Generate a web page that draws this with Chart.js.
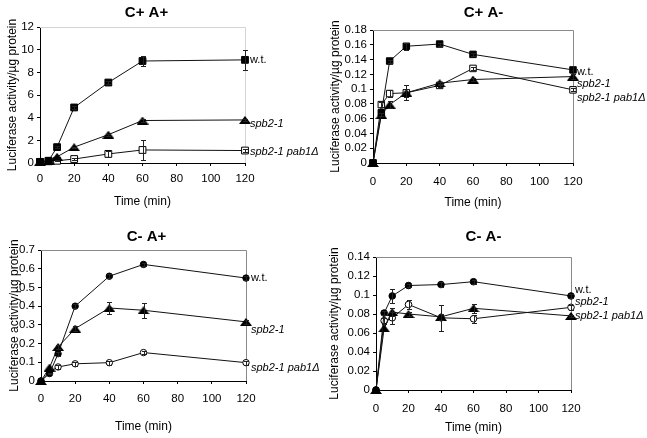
<!DOCTYPE html>
<html>
<head>
<meta charset="utf-8">
<script src="https://cdn.jsdelivr.net/npm/chart.js@4.4.0/dist/chart.umd.min.js"></script>
<style>
html, body { margin: 0; padding: 0; background: #fff; overflow: hidden; }
body { width: 647px; height: 438px; position: relative; }
canvas { position: absolute; }
</style>
</head>
<body>
<canvas id="pA" width="347" height="215" style="left:-27px;top:0px"></canvas>
<canvas id="pB" width="327" height="215" style="left:320px;top:0px"></canvas>
<canvas id="pC" width="347" height="223" style="left:-27px;top:215px"></canvas>
<canvas id="pD" width="327" height="223" style="left:320px;top:215px"></canvas>
<script>
const times = [0, 5, 10, 20, 40, 60, 120];
const xTicks = [0, 20, 40, 60, 80, 100, 120];
const seriesNames = ['w.t.', 'spb2-1', 'spb2-1 pab1Δ'];

// C+ A+
const aTitle = 'C+ A+';
const aTicks = [0, 2, 4, 6, 8, 10, 12];
const aWt = [0.1, 0.2, 1.4, 4.9, 7.1, 9.0, 9.1];
const aWtErr = [0, 0, 0.1, 0.1, 0.1, 0.45, 0.9];
const aSpb = [0.1, 0.2, 0.55, 1.4, 2.5, 3.75, 3.8];
const aSpbErr = [0, 0, 0, 0.05, 0.1, 0.1, 0.1];
const aPab = [0.1, 0.15, 0.2, 0.35, 0.8, 1.15, 1.1];
const aPabErr = [0, 0, 0.05, 0.05, 0.3, 0.85, 0.1];

// C+ A-
const bTitle = 'C+ A-';
const bTicks = [0, 0.02, 0.04, 0.06, 0.08, 0.1, 0.12, 0.14, 0.16, 0.18];
const bWt = [0, 0.068, 0.138, 0.158, 0.161, 0.147, 0.126];
const bWtErr = [0, 0, 0.002, 0.005, 0.002, 0.002, 0.005];
const bSpb = [0, 0.065, 0.079, 0.095, 0.108, 0.113, 0.117];
const bSpbErr = [0, 0.002, 0.005, 0.01, 0.002, 0.002, 0.003];
const bPab = [0, 0.079, 0.094, 0.095, 0.105, 0.128, 0.099];
const bPabErr = [0, 0.003, 0.005, 0.005, 0.002, 0.002, 0.002];

// C- A+
const cTitle = 'C- A+';
const cTicks = [0, 0.1, 0.2, 0.3, 0.4, 0.5, 0.6, 0.7];
const cWt = [0, 0.04, 0.146, 0.40, 0.56, 0.623, 0.55];
const cWtErr = [0, 0.005, 0.01, 0.01, 0.01, 0.01, 0.01];
const cSpb = [0, 0.072, 0.182, 0.28, 0.39, 0.378, 0.316];
const cSpbErr = [0, 0, 0.01, 0.015, 0.03, 0.04, 0.01];
const cPab = [0, 0.05, 0.075, 0.092, 0.098, 0.152, 0.098];
const cPabErr = [0, 0, 0.01, 0.01, 0.01, 0.01, 0.01];

// C- A-
const dTitle = 'C- A-';
const dTicks = [0, 0.02, 0.04, 0.06, 0.08, 0.1, 0.12, 0.14];
const dWt = [0, 0.081, 0.099, 0.11, 0.111, 0.114, 0.099];
const dWtErr = [0, 0.002, 0.007, 0.002, 0.003, 0.002, 0.002];
const dSpb = [0, 0.065, 0.082, 0.080, 0.077, 0.086, 0.078];
const dSpbErr = [0, 0, 0.004, 0.002, 0.003, 0.005, 0.001];
const dPab = [0, 0.073, 0.076, 0.090, 0.076, 0.075, 0.087];
const dPabErr = [0, 0.003, 0.006, 0.005, 0.014, 0.004, 0.003];

Chart.defaults.font.family = "'Liberation Sans', Arial, sans-serif";
Chart.defaults.color = '#000';

// flat triangle marker like the Excel one
function triMarker(w, h) {
  const c = document.createElement('canvas');
  c.width = w; c.height = h;
  const g = c.getContext('2d');
  g.fillStyle = '#000';
  g.beginPath();
  g.moveTo(0, h);
  g.lineTo(w / 2, 0);
  g.lineTo(w, h);
  g.closePath();
  g.fill();
  return c;
}
const tri = triMarker(12, 8);

const frame = {
  id: 'frame',
  beforeDatasetsDraw(chart, args, opts) {
    const {ctx, chartArea: a} = chart;
    ctx.save();
    ctx.strokeStyle = opts.color;
    ctx.lineWidth = 1;
    ctx.beginPath();
    ctx.moveTo(Math.round(a.left), Math.round(a.top) + 0.5);
    ctx.lineTo(Math.round(a.right) + 0.5, Math.round(a.top) + 0.5);
    ctx.lineTo(Math.round(a.right) + 0.5, Math.round(a.bottom));
    ctx.stroke();
    ctx.restore();
  }
};

const errorBars = {
  id: 'errorBars',
  afterDatasetsDraw(chart) {
    const {ctx, scales: {x, y}} = chart;
    ctx.save();
    ctx.strokeStyle = '#222';
    ctx.lineWidth = 1;
    chart.data.datasets.forEach(ds => {
      (ds.err || []).forEach((e, i) => {
        if (!e) return;
        const p = ds.data[i];
        const px = Math.round(x.getPixelForValue(p.x)) + 0.5;
        const top = Math.round(y.getPixelForValue(p.y + e)) + 0.5;
        const bot = Math.round(y.getPixelForValue(p.y - e)) + 0.5;
        ctx.beginPath();
        ctx.moveTo(px, top); ctx.lineTo(px, bot);
        ctx.moveTo(px - 2.5, top); ctx.lineTo(px + 2.5, top);
        ctx.moveTo(px - 2.5, bot); ctx.lineTo(px + 2.5, bot);
        ctx.stroke();
      });
    });
    ctx.restore();
  }
};

const endLabels = {
  id: 'endLabels',
  afterDraw(chart, args, opts) {
    const {ctx, scales: {x, y}} = chart;
    ctx.save();
    ctx.fillStyle = '#000';
    ctx.textBaseline = 'middle';
    ctx.textAlign = 'left';
    chart.data.datasets.forEach((ds, i) => {
      const last = ds.data[ds.data.length - 1];
      const px = x.getPixelForValue(last.x) + opts.dx;
      const py = y.getPixelForValue(last.y) + opts.dy[i];
      ctx.font = (i === 0 ? '' : 'italic ') + "11px 'Liberation Sans', Arial, sans-serif";
      ctx.fillText(ds.label, px, py);
    });
    ctx.restore();
  }
};

function points(vals) {
  return vals.map((v, i) => ({x: times[i], y: v}));
}

function series(label, vals, err, style, fill, radius) {
  return {
    label: label,
    data: points(vals),
    err: err,
    borderColor: '#111',
    borderWidth: 1,
    pointStyle: style,
    pointRadius: radius,
    pointBackgroundColor: fill,
    pointBorderColor: '#000',
    pointBorderWidth: 1,
    tension: 0,
    clip: false,
    yAxisID: 'y'
  };
}

function panel(id, title, yTicks, datasets, geo) {
  const yMax = yTicks[yTicks.length - 1];
  return new Chart(document.getElementById(id), {
    type: 'line',
    data: {datasets: datasets},
    options: {
      responsive: false,
      animation: false,
      events: [],
      layout: {padding: 0},
      plugins: {
        legend: {display: false},
        tooltip: {enabled: false},
        title: {
          display: true,
          text: title,
          color: '#000',
          font: {size: 15, weight: 'bold'},
          padding: {top: geo.tTop, bottom: geo.tBot}
        },
        frame: {color: geo.frame},
        endLabels: {dx: geo.lblDx, dy: geo.lblDy}
      },
      scales: {
        x: {
          type: 'linear',
          min: 0,
          max: 120,
          afterBuildTicks: s => { s.ticks = xTicks.map(v => ({value: v})); },
          afterFit: s => { s.height = geo.xH; },
          ticks: {color: '#000', font: {size: 11.5}, padding: geo.xTickPad, maxRotation: 0, autoSkip: false},
          grid: {drawOnChartArea: false, color: '#000', tickLength: 3},
          border: {color: '#000', width: 1},
          title: {
            display: true,
            text: 'Time (min)',
            color: '#000',
            font: {size: 12},
            padding: {top: 0, bottom: geo.xTitlePad}
          }
        },
        y: {
          position: 'left',
          min: 0,
          max: yMax,
          afterBuildTicks: s => { s.ticks = yTicks.map(v => ({value: v})); },
          afterFit: s => { s.width = geo.yW; },
          ticks: {
            color: '#000',
            font: {size: 11.5},
            padding: 3,
            autoSkip: false,
            callback: v => String(+v.toFixed(4))
          },
          grid: {drawOnChartArea: false, color: '#000', tickLength: 3},
          border: {color: '#000', width: 1},
          title: {
            display: true,
            text: 'Luciferase activity/µg protein',
            color: '#000',
            font: {size: 12},
            padding: {top: geo.yTitlePad, bottom: 0}
          }
        },
        // empty strip on the right that holds the series labels
        side: {
          position: 'right',
          min: 0,
          max: 1,
          afterFit: s => { s.width = geo.sideW; },
          ticks: {display: false},
          grid: {display: false},
          border: {display: false}
        }
      }
    },
    plugins: [frame, errorBars, endLabels]
  });
}

panel('pA', aTitle, aTicks, [
  series(seriesNames[0], aWt, aWtErr, 'rect', '#000', 4.8),
  series(seriesNames[1], aSpb, aSpbErr, tri, '#000', 5),
  series(seriesNames[2], aPab, aPabErr, 'rect', '#fff', 4.8)
], {yW: 67, sideW: 75, xH: 52, tTop: 4, tBot: 5, xTickPad: 5.5, xTitlePad: 6.5, yTitlePad: 32, frame: '#d4d4d4', lblDx: 5, lblDy: [0, 4, 1]});

panel('pB', bTitle, bTicks, [
  series(seriesNames[0], bWt, bWtErr, 'rect', '#000', 4.6),
  series(seriesNames[1], bSpb, bSpbErr, tri, '#000', 5),
  series(seriesNames[2], bPab, bPabErr, 'rect', '#fff', 4.6)
], {yW: 53, sideW: 74, xH: 52, tTop: 4, tBot: 8, xTickPad: 9, xTitlePad: 5.5, yTitlePad: 8, frame: '#8a8a8a', lblDx: 4, lblDy: [2, 7.5, 8.5]});

panel('pC', cTitle, cTicks, [
  series(seriesNames[0], cWt, cWtErr, 'circle', '#000', 3.2),
  series(seriesNames[1], cSpb, cSpbErr, tri, '#000', 5),
  series(seriesNames[2], cPab, cPabErr, 'circle', '#fff', 3.2)
], {yW: 68, sideW: 74, xH: 57, tTop: 13, tBot: 4, xTickPad: 7.5, xTitlePad: 4.5, yTitlePad: 34, frame: '#8a8a8a', lblDx: 5, lblDy: [0, 8, 5.6]});

panel('pD', dTitle, dTicks, [
  series(seriesNames[0], dWt, dWtErr, 'circle', '#000', 3.3),
  series(seriesNames[1], dSpb, dSpbErr, tri, '#000', 5),
  series(seriesNames[2], dPab, dPabErr, 'circle', '#fff', 3.3)
], {yW: 56, sideW: 76, xH: 48, tTop: 13, tBot: 11, xTickPad: 8.5, xTitlePad: 3, yTitlePad: 7, frame: '#8a8a8a', lblDx: 4, lblDy: [-6, -13.5, 8.5]});
</script>
</body>
</html>
